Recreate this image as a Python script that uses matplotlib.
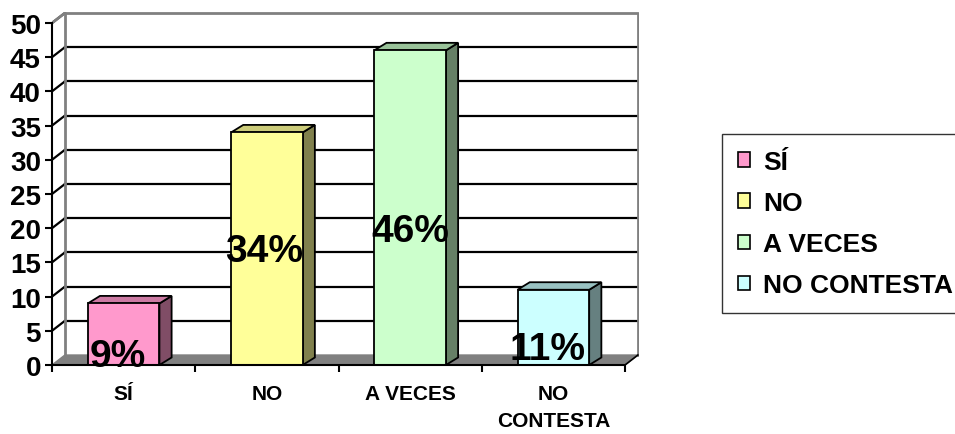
import matplotlib
matplotlib.use("Agg")
import matplotlib.pyplot as plt
from matplotlib.patches import Polygon, Rectangle, Patch

plt.rcParams['font.family'] = ['Liberation Sans', 'DejaVu Sans']
plt.rcParams['font.weight'] = 'bold'

# data
categories = ['SÍ', 'NO', 'A VECES', 'NO\nCONTESTA']
legend_names = ['SÍ', 'NO', 'A VECES', 'NO CONTESTA']
values = [9, 34, 46, 11]
pct_labels = ['9%', '34%', '46%', '11%']
y_ticks = [0, 5, 10, 15, 20, 25, 30, 35, 40, 45, 50]

front_colors = ['#FF99CC', '#FFFF99', '#CCFFCC', '#CCFFFF']
side_colors = ['#804D66', '#80804D', '#668066', '#668080']
top_colors = ['#CC7AA3', '#CCCC7A', '#99C299', '#99C2C2']

# where the percentage labels sit (value units) and x shift from bar centre
pct_y = [1.3, 16.7, 19.6, 2.3]
pct_dx = [-0.04, -0.02, 0.0, -0.04]

fig = plt.figure(figsize=(9.55, 4.35), dpi=100)
ax = fig.add_axes([52/955, 69/435, 587/955, 353/435])
ax.set_xlim(0, 587/143.25)
ax.set_ylim(0, 353/6.84)

n = len(values)
wdx, wdy = 0.09, 1.46   # wall depth
bdx, bdy = 0.085, 1.1   # bar depth
bw = 0.5
ymax = y_ticks[-1]

# floor
ax.add_patch(Polygon([(0, 0), (n, 0), (n + wdx, wdy), (wdx, wdy)],
                     closed=True, facecolor='#808080', edgecolor='#808080', lw=1, zorder=1))
# gridlines on back wall and side wall
for v in y_ticks[1:-1]:
    ax.plot([wdx, n + wdx], [v + wdy, v + wdy], color='black', lw=1.6, zorder=2)
for v in y_ticks[1:]:
    ax.plot([0, wdx], [v, v + wdy], color='black', lw=1.6, zorder=2)
# wall border
ax.plot([wdx, wdx, n + wdx, n + wdx], [wdy, ymax + wdy, ymax + wdy, wdy],
        color='#808080', lw=2, zorder=2)
ax.plot([0, wdx], [ymax, ymax + wdy], color='#808080', lw=2, zorder=2)
ax.plot([n, n + wdx], [0, wdy], color='black', lw=1.2, zorder=2)

# bars
for i, v in enumerate(values):
    c = i + 0.5
    x0, x1 = c - bw/2, c + bw/2
    ax.add_patch(Polygon([(x1, 0), (x1 + bdx, bdy), (x1 + bdx, v + bdy), (x1, v)],
                         closed=True, facecolor=side_colors[i], edgecolor='black', lw=1.3, zorder=4))
    ax.add_patch(Polygon([(x0, v), (x1, v), (x1 + bdx, v + bdy), (x0 + bdx, v + bdy)],
                         closed=True, facecolor=top_colors[i], edgecolor='black', lw=1.3, zorder=4))
    ax.add_patch(Rectangle((x0, 0), bw, v, facecolor=front_colors[i],
                           edgecolor='black', lw=1.3, zorder=5))
    ax.text(c + pct_dx[i], pct_y[i], pct_labels[i], ha='center', va='center',
            fontsize=28, fontweight='bold', zorder=6)

# axes
for s in ['top', 'right']:
    ax.spines[s].set_visible(False)
ax.spines['left'].set_bounds(0, ymax)
ax.spines['bottom'].set_bounds(0, n)
ax.spines['left'].set_linewidth(1.5)
ax.spines['bottom'].set_linewidth(1.5)
ax.spines['left'].set_zorder(7)
ax.spines['bottom'].set_zorder(7)

ax.set_yticks(y_ticks)
ax.set_yticklabels([str(t) for t in y_ticks], fontsize=20, fontweight='bold')
ax.tick_params(axis='y', length=5, width=1.5, pad=3)

ax.set_xticks(range(n + 1))
ax.set_xticklabels([])
ax.set_xticks([i + 0.5 for i in range(n)], minor=True)
ax.set_xticklabels(categories, minor=True, fontsize=15, fontweight='bold', linespacing=1.5)
ax.tick_params(axis='x', which='major', length=5, width=1.5)
ax.tick_params(axis='x', which='minor', length=0, pad=14)
for lbl in ax.get_xticklabels(minor=True):
    lbl.set_verticalalignment('top')

handles = [Patch(facecolor=front_colors[i], edgecolor='black', lw=1.2) for i in range(n)]
leg = fig.legend(handles, legend_names, loc='upper left',
                 bbox_to_anchor=(722/955, 1 - 135/435), frameon=True, fancybox=False,
                 edgecolor='black', fontsize=19, handlelength=0.45, handleheight=0.45,
                 handletextpad=0.5, labelspacing=0.65, borderpad=0.6, borderaxespad=0)
leg.get_frame().set_linewidth(1.0)
for t in leg.get_texts():
    t.set_fontweight('bold')

fig.savefig('out.png', dpi=100)
